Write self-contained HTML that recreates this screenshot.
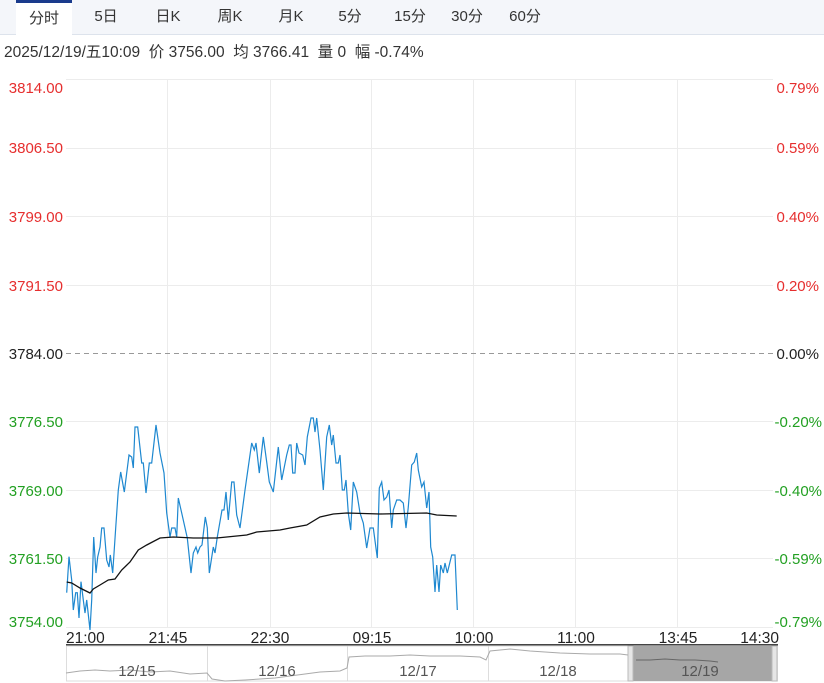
<!DOCTYPE html>
<html><head><meta charset="utf-8"><style>
body{margin:0;width:824px;height:683px;background:#fff;font-family:"Liberation Sans","Noto Sans CJK SC",sans-serif;overflow:hidden;position:relative}
.tabs{position:absolute;left:0;top:0;width:824px;height:34px;background:#f4f6fa;border-bottom:1px solid #dde3ec}
.tab{position:absolute;top:0;height:34px;line-height:34px;font-size:15px;color:#333;text-align:center;width:60px}
.sel{background:#fff;border-top:3px solid #1a3b8c;height:32px;line-height:31px}
.info{position:absolute;left:4px;top:40px;font-size:15.5px;color:#333;white-space:pre}
</style></head><body>
<div class="tabs">
<div class="tab sel" style="left:16px;width:56px">分时</div>
<div class="tab" style="left:76px">5日</div>
<div class="tab" style="left:138px">日K</div>
<div class="tab" style="left:200px">周K</div>
<div class="tab" style="left:261px">月K</div>
<div class="tab" style="left:320px">5分</div>
<div class="tab" style="left:380px">15分</div>
<div class="tab" style="left:437px">30分</div>
<div class="tab" style="left:495px">60分</div>
</div>
<div class="info">2025/12/19/五10:09  价 3756.00  均 3766.41  量 0  幅 -0.74%</div>
<svg width="824" height="683" style="position:absolute;left:0;top:0" font-family="Liberation Sans, sans-serif" font-size="15">
<g stroke="#ececec" stroke-width="1">
<line x1="66" y1="79.5" x2="773" y2="79.5"/><line x1="66" y1="148.5" x2="773" y2="148.5"/><line x1="66" y1="216.5" x2="773" y2="216.5"/><line x1="66" y1="285.5" x2="773" y2="285.5"/><line x1="66" y1="421.5" x2="773" y2="421.5"/><line x1="66" y1="490.5" x2="773" y2="490.5"/><line x1="66" y1="558.5" x2="773" y2="558.5"/><line x1="66" y1="627.5" x2="773" y2="627.5"/>
<line x1="167.5" y1="79" x2="167.5" y2="627"/><line x1="270.5" y1="79" x2="270.5" y2="627"/><line x1="371.5" y1="79" x2="371.5" y2="627"/><line x1="473.5" y1="79" x2="473.5" y2="627"/><line x1="575.5" y1="79" x2="575.5" y2="627"/><line x1="677.5" y1="79" x2="677.5" y2="627"/>
</g>
<line x1="66" y1="353.5" x2="773" y2="353.5" stroke="#999" stroke-dasharray="5,4"/>
<g text-anchor="end" fill="#e62e2e">
<text x="63" y="93">3814.00</text><text x="63" y="153">3806.50</text><text x="63" y="222">3799.00</text><text x="63" y="291">3791.50</text>
<text x="819" y="93">0.79%</text><text x="819" y="153">0.59%</text><text x="819" y="222">0.40%</text><text x="819" y="291">0.20%</text>
</g>
<text x="63" y="359" text-anchor="end" fill="#222">3784.00</text><text x="819" y="359" text-anchor="end" fill="#222">0.00%</text>
<g text-anchor="end" fill="#22a022">
<text x="63" y="427">3776.50</text><text x="63" y="496">3769.00</text><text x="63" y="564">3761.50</text><text x="63" y="627">3754.00</text>
<text x="822" y="427">-0.20%</text><text x="822" y="496">-0.40%</text><text x="822" y="564">-0.59%</text><text x="822" y="627">-0.79%</text>
</g>
<g fill="#222" font-size="15.5">
<text x="66" y="643">21:00</text><text x="168" y="643" text-anchor="middle">21:45</text><text x="270" y="643" text-anchor="middle">22:30</text><text x="372" y="643" text-anchor="middle">09:15</text><text x="474" y="643" text-anchor="middle">10:00</text><text x="576" y="643" text-anchor="middle">11:00</text><text x="678" y="643" text-anchor="middle">13:45</text><text x="779" y="643" text-anchor="end">14:30</text>
</g>
<polyline fill="none" stroke="#1e88d0" stroke-width="1.2" points="66.7,592.7 69,556.7 71.7,580 73.3,610 75.7,592.7 77.3,592.7 79,618 81,581.7 83.3,600 85,613 86.7,600 90,630 91.7,600 93.7,537 96,573 97.7,557 100,547 101.7,528 104,528 106.7,560 109,567 110.3,555 112.7,573 115.7,528 118.3,490 120.7,472 124.3,492 129,455 131.7,457 133.3,468 135,427 137.7,427 141.7,463 143.3,463 146,493 149.3,463 151.7,463 156,425 160,453 164,473 166.7,513 170,537 171.7,528 175,528 176.7,537 178.3,498 181.7,513 187.3,538 191,573 193.3,553 196,547 197.7,553 200,547 202,545 205.3,517 207.3,528 209.3,573 213.3,547 215,553 217.3,537 222,510 224,510 226,492 228.3,520 231.7,482 234,482 236.7,515 240,528 245,490 251.7,443 254.3,450 256,443 259.3,473 263.3,437 266.7,462 269.3,482 273.3,492 278.3,447 281.7,480 286.7,455 289.3,445 291,445 292.7,473 295,473 296.7,443 299,453 302.7,455 305,465 307.3,437 311,418 313.3,418 315,432 316.7,418 320,450 323.3,490 326.7,437 329.3,425 331.7,445 333.3,435 336,463 338.3,463 340,455 342.3,490 344.3,490 346,480 348.3,513 350.7,530 353.3,482 356.7,492 360,513 363.3,523 366.7,548 370,528 373.3,528 377.3,558 379.3,488 381.7,482 384,500 386.7,497 389,490 391.7,528 393.3,510 396.7,500 400,500 403.3,503 406,528 408.3,507 411.7,465 414.3,462 416.7,453 418.3,470 421.7,487 424,482 426.7,508 429,492 430.7,547 432.7,557 435,592 436.7,565 439,592 440.7,565 443.3,573 445,563 447.3,573 451.7,555 455,555 457.3,610"/>
<polyline fill="none" stroke="#111" stroke-width="1.3" points="66.7,582 71.7,583 80,588 90,593 93.3,589 100,585 108.3,580 115,579 121.7,570 130,562 138.3,550 146.7,545 160,538 173.3,537 193.3,538 216.7,538 246.7,535 256.7,532 280,530 290,528 306.7,525 320,517 333.3,514 346.7,513 380,514 426.7,513 436.7,515 456.7,516"/>
<line x1="66" y1="645" x2="778" y2="645" stroke="#444" stroke-width="2"/>
<rect x="66.5" y="646" width="711" height="35" fill="#fff" stroke="#ddd"/>
<rect x="632" y="646" width="141" height="35" fill="#a6a6a6"/>
<rect x="628" y="646" width="5" height="35" fill="#e6e6e6" stroke="#bbb"/><rect x="772" y="646" width="5" height="35" fill="#e6e6e6" stroke="#bbb"/>
<g stroke="#ddd"><line x1="207.5" y1="646" x2="207.5" y2="681"/><line x1="347.5" y1="646" x2="347.5" y2="681"/><line x1="488.5" y1="646" x2="488.5" y2="681"/></g>
<polyline fill="none" stroke="#aaa" stroke-width="1" points="66,673 80,671 95,670 110,671 130,670 150,672 170,671 190,674 207,673 212,679 225,681 245,680 260,679 275,678 290,676 305,674 320,672 340,671 347,668 349,657 365,656 390,656 410,655 430,656 460,656 480,657 486,660 490,651 510,649 530,651 560,653 590,654 620,654 628,655"/>
<polyline fill="none" stroke="#666" stroke-width="1" points="636,660 650,660 665,659 680,660 695,660 710,661 718,662"/>
<g fill="#555" font-size="15" text-anchor="middle"><text x="137" y="676">12/15</text><text x="277" y="676">12/16</text><text x="418" y="676">12/17</text><text x="558" y="676">12/18</text><text x="700" y="676">12/19</text></g>
</svg>
</body></html>
